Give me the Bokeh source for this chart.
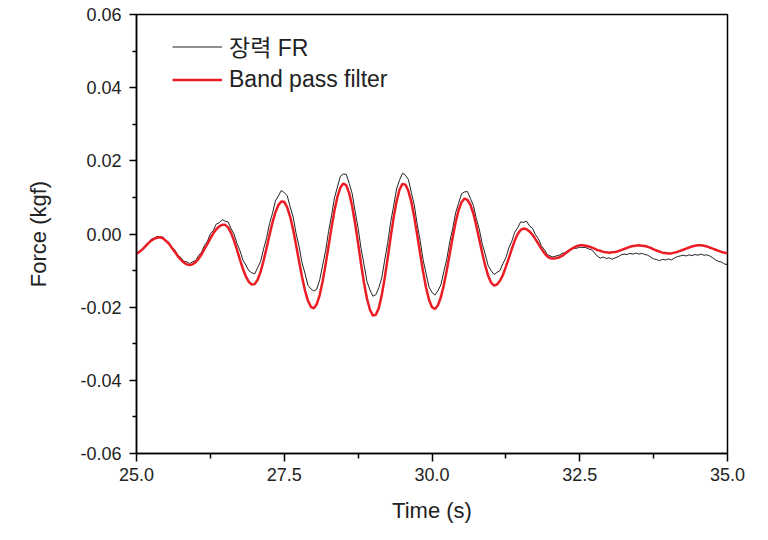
from bokeh.plotting import figure
from bokeh.models import Range1d, FixedTicker, PrintfTickFormatter
from bokeh.embed import file_html
from bokeh.resources import INLINE

# ---- data (sampled every 0.05 s from 25.00 s to 35.00 s) ----
t_start = 25.0
t_step = 0.05
n_samples = 201
time_s = [round(t_start + t_step * i, 2) for i in range(n_samples)]

# raw tension signal "장력 FR" (kgf)
force_raw = [
    # 25.00 - 25.95
    -0.0054, -0.0047, -0.0041, -0.0031, -0.0025, -0.0014, -0.0012, -0.0006, -0.0009, -0.0008,
    -0.0018, -0.0023, -0.0036, -0.0044, -0.0058, -0.0064, -0.0075, -0.0076, -0.0081, -0.0076,
    # 26.00 - 26.95
    -0.0073, -0.0059, -0.0050, -0.0031, -0.0020, 0.0001, 0.0010, 0.0027, 0.0031, 0.0039,
    0.0035, 0.0033, 0.0015, 0.0000, -0.0026, -0.0045, -0.0071, -0.0085, -0.0100, -0.0106,
    # 27.00 - 27.95
    -0.0109, -0.0092, -0.0075, -0.0041, -0.0012, 0.0028, 0.0056, 0.0090, 0.0104, 0.0119,
    0.0113, 0.0105, 0.0074, 0.0047, 0.0002, -0.0033, -0.0078, -0.0107, -0.0140, -0.0150,
    # 28.00 - 28.95
    -0.0156, -0.0151, -0.0125, -0.0085, -0.0046, 0.0007, 0.0050, 0.0099, 0.0129, 0.0158,
    0.0164, 0.0163, 0.0138, 0.0110, 0.0061, 0.0016, -0.0040, -0.0084, -0.0130, -0.0153,
    # 29.00 - 29.95
    -0.0170, -0.0166, -0.0147, -0.0120, -0.0071, -0.0025, 0.0032, 0.0076, 0.0123, 0.0147,
    0.0166, 0.0161, 0.0149, 0.0114, 0.0079, 0.0026, -0.0018, -0.0071, -0.0108, -0.0145,
    # 30.00 - 30.95
    -0.0160, -0.0167, -0.0155, -0.0139, -0.0103, -0.0069, -0.0022, 0.0015, 0.0058, 0.0084,
    0.0110, 0.0115, 0.0116, 0.0097, 0.0078, 0.0042, 0.0013, -0.0027, -0.0055, -0.0086,
    # 31.00 - 31.95
    -0.0100, -0.0111, -0.0105, -0.0100, -0.0081, -0.0065, -0.0038, -0.0020, 0.0005, 0.0017,
    0.0033, 0.0032, 0.0035, 0.0022, 0.0016, -0.0002, -0.0013, -0.0032, -0.0042, -0.0056,
    # 32.00 - 32.95
    -0.0060, -0.0063, -0.0060, -0.0058, -0.0053, -0.0051, -0.0045, -0.0043, -0.0039, -0.0039,
    -0.0036, -0.0037, -0.0037, -0.0041, -0.0043, -0.0052, -0.0061, -0.0066, -0.0063, -0.0067,
    # 33.00 - 33.95
    -0.0065, -0.0069, -0.0065, -0.0062, -0.0057, -0.0055, -0.0056, -0.0053, -0.0055, -0.0052,
    -0.0055, -0.0053, -0.0056, -0.0058, -0.0063, -0.0068, -0.0070, -0.0073, -0.0069, -0.0071,
    # 34.00 - 34.95
    -0.0068, -0.0071, -0.0066, -0.0062, -0.0060, -0.0058, -0.0060, -0.0057, -0.0059, -0.0056,
    -0.0058, -0.0055, -0.0058, -0.0057, -0.0060, -0.0065, -0.0071, -0.0075, -0.0077, -0.0082,
    # 35.00
    -0.0084,
]

# band pass filtered signal (kgf)
force_filtered = [
    # 25.00 - 25.95
    -0.0054, -0.0049, -0.0042, -0.0034, -0.0025, -0.0018, -0.0013, -0.0010, -0.0009, -0.0012,
    -0.0019, -0.0027, -0.0038, -0.0049, -0.0061, -0.0070, -0.0078, -0.0083, -0.0085, -0.0083,
    # 26.00 - 26.95
    -0.0077, -0.0068, -0.0056, -0.0041, -0.0027, -0.0012, 0.0002, 0.0013, 0.0021, 0.0025,
    0.0025, 0.0018, 0.0003, -0.0018, -0.0043, -0.0070, -0.0095, -0.0116, -0.0131, -0.0138,
    # 27.00 - 27.95
    -0.0137, -0.0125, -0.0103, -0.0073, -0.0039, -0.0003, 0.0031, 0.0059, 0.0079, 0.0089,
    0.0088, 0.0073, 0.0047, 0.0012, -0.0030, -0.0074, -0.0117, -0.0154, -0.0182, -0.0199,
    # 28.00 - 28.95
    -0.0203, -0.0192, -0.0167, -0.0129, -0.0083, -0.0033, 0.0018, 0.0064, 0.0102, 0.0127,
    0.0138, 0.0133, 0.0111, 0.0075, 0.0028, -0.0026, -0.0082, -0.0134, -0.0177, -0.0207,
    # 29.00 - 29.95
    -0.0223, -0.0221, -0.0202, -0.0167, -0.0120, -0.0066, -0.0009, 0.0044, 0.0089, 0.0121,
    0.0137, 0.0135, 0.0118, 0.0088, 0.0046, -0.0003, -0.0054, -0.0104, -0.0147, -0.0180,
    # 30.00 - 30.95
    -0.0200, -0.0205, -0.0195, -0.0173, -0.0140, -0.0099, -0.0054, -0.0009, 0.0032, 0.0065,
    0.0087, 0.0097, 0.0093, 0.0080, 0.0056, 0.0022, -0.0015, -0.0052, -0.0086, -0.0114,
    # 31.00 - 31.95
    -0.0133, -0.0141, -0.0138, -0.0128, -0.0112, -0.0090, -0.0066, -0.0041, -0.0018, 0.0000,
    0.0011, 0.0015, 0.0013, 0.0007, -0.0002, -0.0014, -0.0027, -0.0040, -0.0052, -0.0061,
    # 32.00 - 32.95
    -0.0066, -0.0067, -0.0066, -0.0064, -0.0060, -0.0054, -0.0048, -0.0042, -0.0037, -0.0033,
    -0.0031, -0.0031, -0.0032, -0.0034, -0.0037, -0.0040, -0.0044, -0.0046, -0.0049, -0.0050,
    # 33.00 - 33.95
    -0.0051, -0.0050, -0.0049, -0.0047, -0.0044, -0.0041, -0.0038, -0.0035, -0.0033, -0.0032,
    -0.0031, -0.0032, -0.0033, -0.0035, -0.0038, -0.0042, -0.0045, -0.0048, -0.0051, -0.0052,
    # 34.00 - 34.95
    -0.0053, -0.0053, -0.0051, -0.0049, -0.0046, -0.0043, -0.0040, -0.0037, -0.0034, -0.0032,
    -0.0031, -0.0031, -0.0032, -0.0034, -0.0037, -0.0040, -0.0043, -0.0046, -0.0049, -0.0051,
    # 35.00
    -0.0052,
]

series_names = ["장력 FR", "Band pass filter"]

x_major_ticks = [25.0, 27.5, 30.0, 32.5, 35.0]
x_minor_ticks = [26.25, 28.75, 31.25, 33.75]
y_major_ticks = [-0.06, -0.04, -0.02, 0.0, 0.02, 0.04, 0.06]
y_minor_ticks = [-0.05, -0.03, -0.01, 0.01, 0.03, 0.05]

x_title = "Time (s)"
y_title = "Force (kgf)"

# ---- figure ----
FONT = "Liberation Sans"

p = figure(
    width=764, height=536,
    x_range=Range1d(25, 35), y_range=Range1d(-0.06, 0.06),
    output_backend="svg", toolbar_location=None,
    min_border_left=136, min_border_right=37,
    min_border_top=14, min_border_bottom=83,
    background_fill_color="white", border_fill_color="white",
)
p.xgrid.visible = False
p.ygrid.visible = False
p.outline_line_color = "black"
p.outline_line_width = 1.5
p.outline_line_alpha = 1.0

p.line(time_s, force_raw, line_color="#222222", line_width=1.0,
       legend_label=series_names[0])
p.line(time_s, force_filtered, line_color="#ec1c24", line_width=2.5,
       legend_label=series_names[1])

xa = p.xaxis[0]
ya = p.yaxis[0]
xa.ticker = FixedTicker(ticks=x_major_ticks, minor_ticks=x_minor_ticks)
ya.ticker = FixedTicker(ticks=y_major_ticks, minor_ticks=y_minor_ticks)
xa.formatter = PrintfTickFormatter(format="%.1f")
ya.formatter = PrintfTickFormatter(format="%.2f")
xa.axis_label = x_title
ya.axis_label = y_title

for ax in (xa, ya):
    ax.axis_line_width = 1.5
    ax.axis_line_color = "black"
    ax.major_tick_line_width = 1.5
    ax.minor_tick_line_width = 1.5
    ax.major_tick_line_color = "black"
    ax.minor_tick_line_color = "black"
    ax.major_tick_in = 0
    ax.minor_tick_in = 0
    ax.major_label_text_font = FONT
    ax.major_label_text_font_size = "18px"
    ax.major_label_text_color = "#222222"
    ax.axis_label_text_font = FONT
    ax.axis_label_text_font_size = "22px"
    ax.axis_label_text_font_style = "normal"
    ax.axis_label_text_color = "#222222"

xa.major_tick_out = 8
xa.minor_tick_out = 5
xa.major_label_standoff = 6
xa.axis_label_standoff = 14
ya.major_tick_out = 7
ya.minor_tick_out = 4
ya.major_label_standoff = 8
ya.axis_label_standoff = 26

lg = p.legend[0]
lg.location = (36, 360)
lg.border_line_color = None
lg.background_fill_alpha = 0
lg.label_text_font = "Liberation Sans, Noto Sans CJK KR"
lg.label_text_font_size = "23px"
lg.label_text_color = "#222222"
lg.glyph_width = 50
lg.glyph_height = 25
lg.label_height = 25
lg.label_standoff = 7
lg.spacing = 3
lg.padding = 0
lg.margin = 0

open("out.html", "w").write(file_html(p, INLINE))
